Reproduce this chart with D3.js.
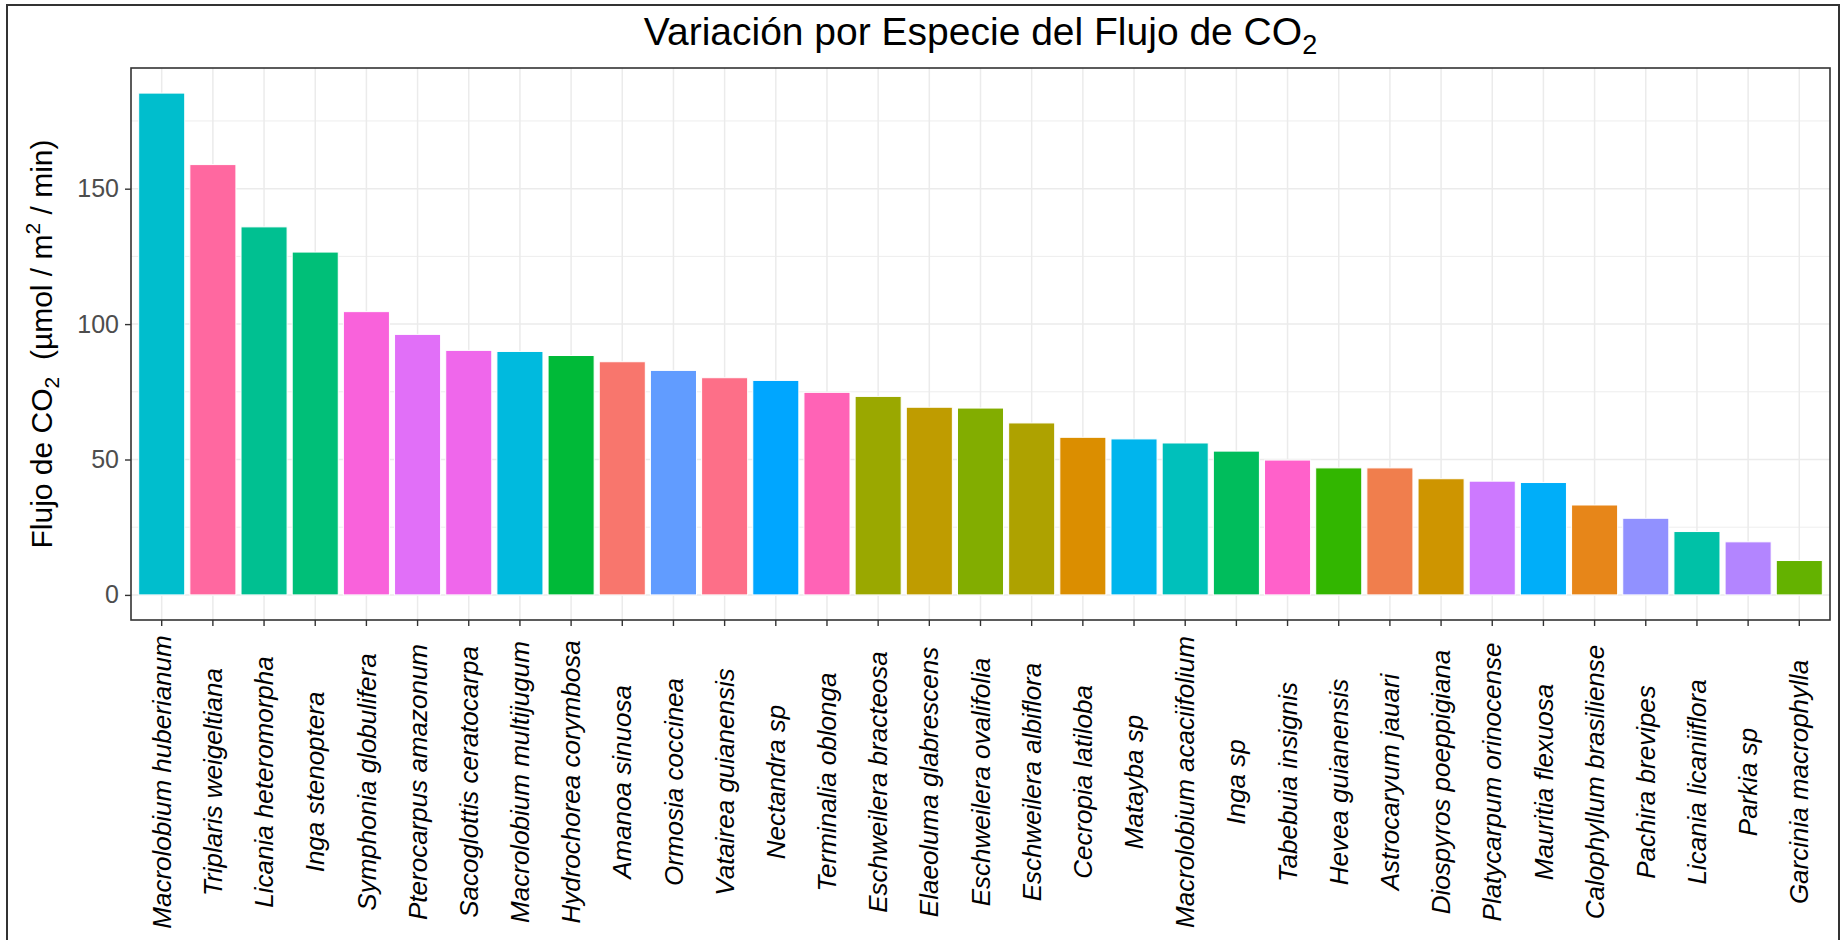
<!DOCTYPE html>
<html>
<head>
<meta charset="utf-8">
<script src="https://cdn.jsdelivr.net/npm/d3@7"></script>
<style>
  body { margin: 0; background: #ffffff; }
  text { font-family: "Liberation Sans", Arial, sans-serif; }
</style>
</head>
<body>
<div id="chart"></div>
<script>
// data (sorted as in the plot)
var species = [
  "Macrolobium huberianum", "Triplaris weigeltiana", "Licania heteromorpha", "Inga stenoptera",
  "Symphonia globulifera", "Pterocarpus amazonum", "Sacoglottis ceratocarpa", "Macrolobium multijugum",
  "Hydrochorea corymbosa", "Amanoa sinuosa", "Ormosia coccinea", "Vatairea guianensis",
  "Nectandra sp", "Terminalia oblonga", "Eschweilera bracteosa", "Elaeoluma glabrescens",
  "Eschweilera ovalifolia", "Eschweilera albiflora", "Cecropia latiloba", "Matayba sp",
  "Macrolobium acaciifolium", "Inga sp", "Tabebuia insignis", "Hevea guianensis",
  "Astrocaryum jauari", "Diospyros poeppigiana", "Platycarpum orinocense", "Mauritia flexuosa",
  "Calophyllum brasiliense", "Pachira brevipes", "Licania licaniiflora", "Parkia sp",
  "Garcinia macrophylla"
];
var flux = [
  185.3, 158.9, 135.9, 126.6,
  104.6, 96.2, 90.3, 89.9,
  88.4, 86.1, 82.9, 80.2,
  79.2, 74.8, 73.3, 69.3,
  69.0, 63.5, 58.2, 57.6,
  56.1, 53.1, 49.8, 46.9,
  46.9, 42.9, 42.0, 41.5,
  33.2, 28.3, 23.4, 19.6,
  12.7
];
var majorTicks = [0, 50, 100, 150];
var minorTicks = [25, 75, 125, 175];

var svgWidth = 1841;
var svgHeight = 940;

// panel box
var panel = { left: 131, right: 1830, top: 68, bottom: 620 };

// ggplot-like default hue palette, hcl(h, c = 100, l = 65) in polar Luv
function hueColor(h) {
  var L = 65, C = 100;
  var hr = h * Math.PI / 180;
  var U = C * Math.cos(hr), V = C * Math.sin(hr);
  var Xn = 95.047, Yn = 100, Zn = 108.883;
  var t = Xn + 15 * Yn + 3 * Zn;
  var un = 4 * Xn / t, vn = 9 * Yn / t;
  var Y = Yn * Math.pow((L + 16) / 116, 3);
  var u = U / (13 * L) + un, v = V / (13 * L) + vn;
  var X = 9 * Y * u / (4 * v);
  var Z = -X / 3 - 5 * Y + 3 * Y / v;
  X /= 100; Y /= 100; Z /= 100;
  var lin = [
    3.240479 * X - 1.537150 * Y - 0.498535 * Z,
    -0.969256 * X + 1.875992 * Y + 0.041556 * Z,
    0.055648 * X - 0.204043 * Y + 1.057311 * Z
  ];
  var c = lin.map(function(x) {
    var g = x <= 0.0031308 ? 12.92 * x : 1.055 * Math.pow(x, 1 / 2.4) - 0.055;
    return Math.round(Math.max(0, Math.min(1, g)) * 255);
  });
  return d3.rgb(c[0], c[1], c[2]).formatHex();
}

// fill colour follows alphabetical order of the species
var alpha = species.slice().sort();
var n = alpha.length;
var colorOf = {};
alpha.forEach(function(s, i) {
  colorOf[s] = hueColor(15 + i * 360 / n);
});

var rows = species.map(function(s, i) { return { name: s, value: flux[i] }; });

var svg = d3.select("#chart")
  .append("svg")
  .attr("width", svgWidth)
  .attr("height", svgHeight)
  .style("display", "block");

svg.append("rect")
  .attr("width", svgWidth)
  .attr("height", svgHeight)
  .attr("fill", "#ffffff");

// outer plot frame
svg.append("rect")
  .attr("x", 7)
  .attr("y", 5)
  .attr("width", 1839 - 7)
  .attr("height", 960)
  .attr("fill", "none")
  .attr("stroke", "#333333")
  .attr("stroke-width", 2);

var x = d3.scaleBand()
  .domain(species)
  .range([panel.left, panel.right])
  .paddingInner(0.1)
  .paddingOuter(0.15);

var yMax = d3.max(flux);
var y = d3.scaleLinear()
  .domain([-0.05 * yMax, yMax * 1.05])
  .range([panel.bottom, panel.top]);

var grid = svg.append("g");

grid.selectAll(".minor")
  .data(minorTicks.filter(function(d) { return d < y.domain()[1]; }))
  .enter().append("line")
  .attr("x1", panel.left).attr("x2", panel.right)
  .attr("y1", function(d) { return y(d); })
  .attr("y2", function(d) { return y(d); })
  .attr("stroke", "#ebebeb")
  .attr("stroke-width", 0.9);

grid.selectAll(".major")
  .data(majorTicks)
  .enter().append("line")
  .attr("x1", panel.left).attr("x2", panel.right)
  .attr("y1", function(d) { return y(d); })
  .attr("y2", function(d) { return y(d); })
  .attr("stroke", "#ebebeb")
  .attr("stroke-width", 1.5);

grid.selectAll(".vmajor")
  .data(species)
  .enter().append("line")
  .attr("x1", function(d) { return x(d) + x.bandwidth() / 2; })
  .attr("x2", function(d) { return x(d) + x.bandwidth() / 2; })
  .attr("y1", panel.top).attr("y2", panel.bottom)
  .attr("stroke", "#ebebeb")
  .attr("stroke-width", 1.5);

// bars
svg.append("g")
  .selectAll("rect")
  .data(rows)
  .enter().append("rect")
  .attr("x", function(d) { return x(d.name); })
  .attr("y", function(d) { return y(d.value); })
  .attr("width", x.bandwidth())
  .attr("height", function(d) { return y(0) - y(d.value); })
  .attr("fill", function(d) { return colorOf[d.name]; })
  .attr("stroke", "#ffffff")
  .attr("stroke-width", 1);

// panel border
svg.append("rect")
  .attr("x", panel.left)
  .attr("y", panel.top)
  .attr("width", panel.right - panel.left)
  .attr("height", panel.bottom - panel.top)
  .attr("fill", "none")
  .attr("stroke", "#333333")
  .attr("stroke-width", 1.6);

// Y axis
var yAxis = svg.append("g")
  .attr("transform", "translate(" + panel.left + ",0)")
  .call(d3.axisLeft(y).tickValues(majorTicks).tickSize(6).tickPadding(6));
yAxis.select(".domain").remove();
yAxis.selectAll("line").attr("stroke", "#333333").attr("stroke-width", 1.4);
yAxis.selectAll("text")
  .attr("fill", "#4d4d4d")
  .style("font-size", "25px")
  .style("font-family", "'Liberation Sans', Arial, sans-serif");

// X axis with rotated italic labels
var xAxis = svg.append("g")
  .attr("transform", "translate(0," + panel.bottom + ")")
  .call(d3.axisBottom(x).tickSize(6));
xAxis.select(".domain").remove();
xAxis.selectAll("line").attr("stroke", "#333333").attr("stroke-width", 1.4);
xAxis.selectAll("text")
  .attr("transform", "rotate(-90)")
  .attr("x", -(782 - panel.bottom))
  .attr("y", 0)
  .attr("dy", "0.35em")
  .attr("text-anchor", "middle")
  .attr("fill", "#000000")
  .style("font-size", "26px")
  .style("font-style", "italic")
  .style("font-family", "'Liberation Sans', Arial, sans-serif");

// title
var title = svg.append("text")
  .attr("x", (panel.left + panel.right) / 2)
  .attr("y", 45)
  .attr("text-anchor", "middle")
  .style("font-size", "39px")
  .attr("fill", "#000000");
title.append("tspan").text("Variación por Especie del Flujo de CO");
title.append("tspan").attr("dy", 9).style("font-size", "27px").text("2");

// y axis title
var yTitle = svg.append("text")
  .attr("transform", "translate(52," + ((panel.top + panel.bottom) / 2) + ") rotate(-90)")
  .attr("text-anchor", "middle")
  .style("font-size", "30px")
  .style("white-space", "pre")
  .attr("fill", "#000000");
yTitle.append("tspan").text("Flujo de CO");
yTitle.append("tspan").attr("dy", 7).style("font-size", "21px").text("2");
yTitle.append("tspan").attr("dy", -7).text("  (µmol / m");
yTitle.append("tspan").attr("dy", -12).style("font-size", "21px").text("2");
yTitle.append("tspan").attr("dy", 12).text(" / min)");
</script>
</body>
</html>
